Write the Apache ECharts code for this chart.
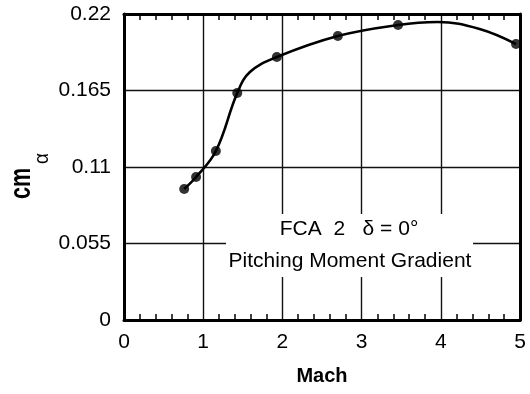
<!DOCTYPE html>
<html>
<head>
<meta charset="utf-8">
<script src="https://cdn.jsdelivr.net/npm/echarts@6/dist/echarts.min.js"></script>
<style>
html,body{margin:0;padding:0;background:#fff;}
#chart{width:530px;height:394px;}
</style>
</head>
<body>
<div id="chart"></div>
<script>
// Data
var markerMach = [0.76, 0.91, 1.16, 1.43, 1.93, 2.70, 3.46, 4.95];
var markerCm   = [0.0942, 0.1028, 0.1215, 0.1632, 0.1891, 0.2042, 0.2121, 0.1984];
// Curve traced through the picture (markers plus points)
var curveMach  = [0.76, 0.91, 1.16, 1.43, 1.59, 1.93, 2.70, 3.46, 3.96, 4.49, 4.95];
var curveCm    = [0.0942, 0.1028, 0.1215, 0.1632, 0.1783, 0.1891, 0.2042, 0.2121, 0.2142, 0.2092, 0.1984];
var xTickLabels = ['0', '1', '2', '3', '4', '5'];
var yTickLabels = ['0', '0.055', '0.11', '0.165', '0.22'];
var xTitle = 'Mach';
var annotLine1 = 'FCA  2   \u03b4 = 0\u00b0';
var annotLine2 = 'Pitching Moment Gradient';

var FONT = '"Liberation Sans", Arial, sans-serif';

var markerData = markerMach.map(function (x, i) { return [x, markerCm[i]]; });
var curveData = curveMach.map(function (x, i) { return [x, curveCm[i]]; });

var chart = echarts.init(document.getElementById('chart'), null, {renderer: 'canvas'});

var frameLine = {show: true, onZero: false, lineStyle: {color: '#000', width: 3}};
var splitLine = {show: true, lineStyle: {color: '#111', width: 1.4}};

var option = {
  backgroundColor: '#fff',
  animation: false,
  grid: {left: 124, top: 14, right: 10, bottom: 74, containLabel: false},
  xAxis: [{
    type: 'value', min: 0, max: 5, interval: 1, position: 'bottom',
    axisLine: frameLine,
    axisTick: {show: false, inside: true},
    minorTick: {show: true, splitNumber: 5, length: 6, lineStyle: {color: '#000', width: 1.5}},
    splitLine: splitLine,
    axisLabel: {
      margin: 12, color: '#000', fontSize: 21, fontFamily: FONT,
      formatter: function (v) { return xTickLabels[Math.round(v)]; }
    },
    name: xTitle, nameLocation: 'middle', nameGap: 46,
    nameTextStyle: {color: '#000', fontSize: 20, fontWeight: 'bold', fontFamily: FONT}
  }, {
    type: 'value', min: 0, max: 5, interval: 1, position: 'top',
    axisLine: frameLine,
    axisTick: {show: false, inside: true},
    minorTick: {show: true, splitNumber: 5, length: 6, lineStyle: {color: '#000', width: 1.5}},
    splitLine: {show: false},
    axisLabel: {show: false}
  }],
  yAxis: [{
    type: 'value', min: 0, max: 0.22, interval: 0.055, position: 'left',
    axisLine: frameLine,
    axisTick: {show: false},
    splitLine: splitLine,
    axisLabel: {
      margin: 13, color: '#000', fontSize: 21, fontFamily: FONT,
      formatter: function (v) { return yTickLabels[Math.round(v / 0.055)]; }
    }
  }, {
    type: 'value', min: 0, max: 0.22, interval: 0.055, position: 'right',
    axisLine: frameLine,
    axisTick: {show: false},
    splitLine: {show: false},
    axisLabel: {show: false}
  }],
  graphic: [
    {
      type: 'rect', z: 50, shape: {x: 226, y: 214, width: 247, height: 63},
      style: {fill: '#fff'}
    },
    {
      type: 'text', z: 51, x: 349, y: 229,
      style: {text: annotLine1, font: '21px ' + FONT, fill: '#000', textAlign: 'center', textVerticalAlign: 'middle'}
    },
    {
      type: 'text', z: 51, x: 350, y: 261,
      style: {text: annotLine2, font: '21px ' + FONT, fill: '#000', textAlign: 'center', textVerticalAlign: 'middle'}
    },
    {
      type: 'group', x: 24, y: 199, rotation: Math.PI / 2, z: 51,
      children: [
        {type: 'text', x: 0, y: -2, scaleX: 0.8, scaleY: 1.1,
          style: {text: 'cm', font: 'bold 27px ' + FONT, fill: '#000', textAlign: 'left', textVerticalAlign: 'middle'}},
        {type: 'text', x: 35, y: 18, scaleX: 0.9,
          style: {text: '\u03b1', font: '21px ' + FONT, fill: '#000', textAlign: 'left', textVerticalAlign: 'middle'}}
      ]
    }
  ],
  series: [{
    type: 'line', xAxisIndex: 0, yAxisIndex: 0,
    data: curveData, smooth: 0.4, showSymbol: false, symbol: 'none',
    lineStyle: {color: '#000', width: 2.6}, z: 60
  }, {
    type: 'scatter', xAxisIndex: 0, yAxisIndex: 0,
    data: markerData, symbol: 'circle', symbolSize: 10, clip: false,
    itemStyle: {color: '#000'}, z: 61
  }]
};
chart.setOption(option);
</script>
</body>
</html>
